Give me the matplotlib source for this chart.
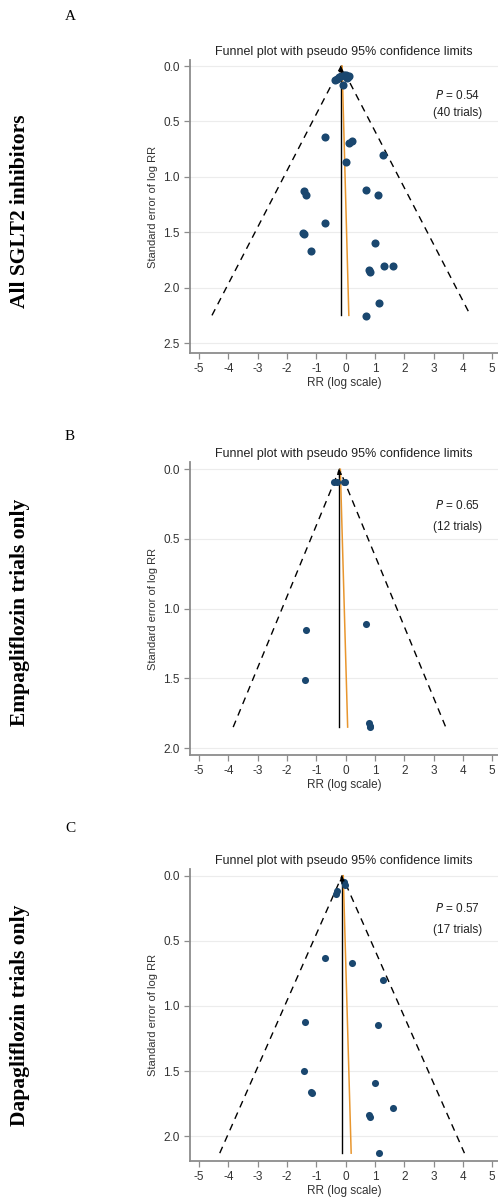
import matplotlib
matplotlib.use("Agg")
import matplotlib.pyplot as plt

plt.rcParams['font.family'] = ['Liberation Sans', 'DejaVu Sans']
plt.rcParams['axes.unicode_minus'] = False

# Panel A: all SGLT2 inhibitors (log RR, SE)
a_logrr = [-0.30, -0.22, -0.15, -0.05, 0.00, 0.08, 0.12, -0.10, -0.35, 0.05,
           -0.70, 0.13, 0.21, 1.26, 0.02,
           -1.42, -1.36, 0.68, 1.09, -0.70,
           -1.44, -1.42, -1.18, 1.00, 1.31, 1.63, 0.81, 0.82, 1.13, 0.70]
a_se = [0.12, 0.10, 0.09, 0.08, 0.08, 0.10, 0.09, 0.17, 0.13, 0.11,
        0.64, 0.69, 0.68, 0.80, 0.87,
        1.13, 1.16, 1.12, 1.16, 1.42,
        1.51, 1.52, 1.67, 1.60, 1.80, 1.80, 1.84, 1.86, 2.14, 2.26]

# Panel B: empagliflozin trials only
b_logrr = [-0.38, -0.30, -0.07, -0.02, -1.36, 0.68, -1.38, 0.81, 0.82, 0.83]
b_se = [0.09, 0.09, 0.09, 0.09, 1.15, 1.11, 1.51, 1.82, 1.84, 1.85]

# Panel C: dapagliflozin trials only
c_logrr = [-0.07, -0.02, -0.28, -0.32, -0.69, 0.22, 1.26,
           -1.39, 1.09, -1.42, 1.01, -1.18, -1.16, 1.63, 0.79, 0.84, 1.13]
c_se = [0.05, 0.07, 0.12, 0.14, 0.63, 0.67, 0.80,
        1.12, 1.15, 1.50, 1.59, 1.66, 1.67, 1.78, 1.84, 1.85, 2.13]

panels = [
    dict(letter='A', label='All SGLT2 inhibitors', x=a_logrr, se=a_se,
         center=-0.15, se_max=2.25, egger=(-0.12, 0.11), p='0.54', n=40,
         yticks=[0.0, 0.5, 1.0, 1.5, 2.0, 2.5], ylim=(2.59, -0.05),
         rect=[0.3815, 0.7053, 0.6185, 0.2442], ms=34,
         letter_y=17, label_y=211, p_y=(0.868, 0.81)),
    dict(letter='B', label='Empagliflozin trials only', x=b_logrr, se=b_se,
         center=-0.21, se_max=1.85, egger=(-0.18, 0.07), p='0.65', n=12,
         yticks=[0.0, 0.5, 1.0, 1.5, 2.0], ylim=(2.05, -0.05),
         rect=[0.3815, 0.3698, 0.6185, 0.2443], ms=26,
         letter_y=437, label_y=612, p_y=(0.84, 0.769)),
    dict(letter='C', label='Dapagliflozin trials only', x=c_logrr, se=c_se,
         center=-0.12, se_max=2.13, egger=(-0.08, 0.19), p='0.57', n=17,
         yticks=[0.0, 0.5, 1.0, 1.5, 2.0], ylim=(2.19, -0.05),
         rect=[0.3815, 0.0309, 0.6185, 0.2436], ms=26,
         letter_y=828, label_y=1015, p_y=(0.853, 0.781)),
]

H = 1198.0
fig = plt.figure(figsize=(4.98, 11.98), dpi=100)

for pn in panels:
    ax = fig.add_axes(pn['rect'])
    c = pn['center']
    sm = pn['se_max']
    # pseudo 95% limits
    ax.plot([c - 1.96 * sm, c, c + 1.96 * sm], [sm, 0, sm], color='black',
            linestyle=(0, (5, 4)), linewidth=1.0, zorder=2)
    ax.plot([c, c], [sm, 0], color='black', linewidth=1.0, zorder=2)
    ax.plot([pn['egger'][0], pn['egger'][1]], [0, sm], color='#e8962e',
            linewidth=1.1, zorder=2)
    ax.annotate('', xy=(c, -0.02), xytext=(c, 0.08),
                arrowprops=dict(arrowstyle='-|>', color='black', lw=0.8,
                                mutation_scale=7), zorder=4)
    ax.scatter(pn['x'], pn['se'], s=pn['ms'], color='#1a476f', zorder=3,
               linewidths=0)

    ax.set_xlim(-5.31, 5.2)
    ax.set_ylim(*pn['ylim'])
    ax.set_xticks(range(-5, 6))
    ax.set_yticks(pn['yticks'])
    ax.set_yticklabels(['%.1f' % v for v in pn['yticks']])
    ax.grid(axis='y', color='#ececec', linewidth=0.8)
    ax.set_axisbelow(True)
    for s in ['top', 'right']:
        ax.spines[s].set_visible(False)
    for s in ['left', 'bottom']:
        ax.spines[s].set_color('#8c8c8c')
        ax.spines[s].set_linewidth(1.3)
    ax.tick_params(colors='#8c8c8c', labelcolor='#333333', labelsize=8.5,
                   length=4, width=0.9)
    ax.set_title('Funnel plot with pseudo 95% confidence limits', fontsize=9,
                 color='#222222', pad=4)
    ax.set_xlabel('RR (log scale)', fontsize=8.5, color='#333333', labelpad=1)
    ax.set_ylabel('Standard error of log RR', fontsize=8, color='#333333',
                  labelpad=4)
    ax.text(0.795, pn['p_y'][0], r'$\it{P}$ = ' + pn['p'],
            transform=ax.transAxes, fontsize=8.5, color='#222222')
    ax.text(0.79, pn['p_y'][1], '(%d trials)' % pn['n'],
            transform=ax.transAxes, fontsize=8.5, color='#222222')

    # panel letter and row label
    fig.text(70 / 498, 1 - pn['letter_y'] / H, pn['letter'], fontsize=11,
             family='Liberation Serif', ha='center', va='center')
    fig.text(20 / 498, 1 - pn['label_y'] / H, pn['label'], rotation=90,
             fontsize=15.5, fontweight='bold', family='Liberation Serif',
             ha='center', va='center')

fig.savefig('out.png', dpi=100)
